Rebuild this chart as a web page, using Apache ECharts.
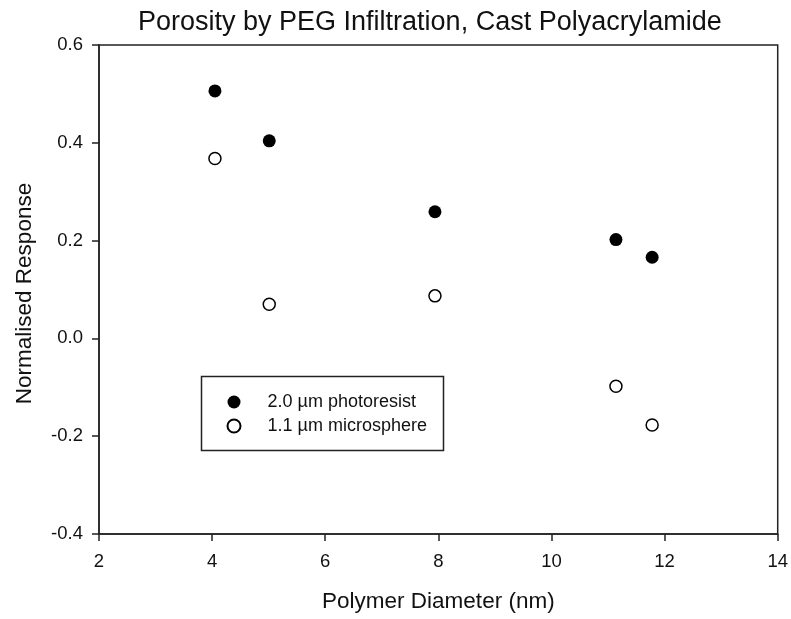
<!DOCTYPE html>
<html>
<head>
<meta charset="utf-8">
<script src="https://cdn.jsdelivr.net/npm/echarts@6/dist/echarts.min.js"></script>
<style>html,body{margin:0;padding:0;background:#fff;}#c{width:791px;height:619px;}</style>
</head>
<body>
<div id="c"></div>
<script>
var diameters = [4.05, 5.01, 7.94, 11.14, 11.78];
var photoresist = [0.506, 0.404, 0.259, 0.202, 0.166];
var microsphere = [0.368, 0.070, 0.087, -0.098, -0.177];
var seriesNames = ['2.0 µm photoresist', '1.1 µm microsphere'];
var titleText = 'Porosity by PEG Infiltration, Cast Polyacrylamide';
var xName = 'Polymer Diameter (nm)';
var yName = 'Normalised Response';

function pairs(xs, ys) { return xs.map(function (x, i) { return [x, ys[i]]; }); }

var font = 'Liberation Sans, Arial, sans-serif';
var chart = echarts.init(document.getElementById('c'), null, {renderer: 'canvas'});
chart.setOption({
  animation: false,
  backgroundColor: '#fff',
  title: {
    text: titleText, left: 133, top: 4, padding: 5,
    textStyle: {fontFamily: font, fontSize: 27, fontWeight: 'normal', color: '#111'}
  },
  grid: {left: 99, top: 45, right: 12, bottom: 85, show: true, borderColor: '#222', borderWidth: 1.5, backgroundColor: 'transparent'},
  xAxis: {
    type: 'value', min: 2, max: 14, interval: 2,
    name: xName, nameLocation: 'middle', nameGap: 56,
    nameTextStyle: {fontFamily: font, fontSize: 22.5, color: '#111'},
    axisLine: {show: true, onZero: false, lineStyle: {color: '#222', width: 1.5}},
    axisTick: {show: true, inside: false, length: 7, lineStyle: {color: '#222', width: 1.5}},
    axisLabel: {fontFamily: font, fontSize: 18.5, color: '#111', margin: 18},
    splitLine: {show: false}
  },
  yAxis: {
    type: 'value', min: -0.4, max: 0.6, interval: 0.2,
    name: yName, nameLocation: 'middle', nameGap: 63,
    nameTextStyle: {fontFamily: font, fontSize: 22.5, color: '#111', padding: [0, 8, 0, 0]},
    axisLine: {show: true, onZero: false, lineStyle: {color: '#222', width: 1.5}},
    axisTick: {show: true, inside: false, length: 7, lineStyle: {color: '#222', width: 1.5}},
    axisLabel: {fontFamily: font, fontSize: 18.5, color: '#111', margin: 16,
      formatter: function (v) { return v.toFixed(1); }},
    splitLine: {show: false}
  },
  legend: {
    orient: 'vertical', left: 226.5, top: 393, padding: 0,
    itemWidth: 13, itemHeight: 13, itemGap: 6, selectedMode: false,
    data: [{name: seriesNames[0], icon: 'circle'}, {name: seriesNames[1], icon: 'circle'}],
    textStyle: {fontFamily: font, fontSize: 18, color: '#111', lineHeight: 18, padding: [0, 0, 0, 22]}
  },
  graphic: [{
    type: 'rect', left: 199, top: 374, silent: true, z: 10,
    shape: {width: 242, height: 74},
    style: {fill: null, stroke: '#222', lineWidth: 1.5}
  }],
  series: [
    {name: seriesNames[0], type: 'scatter', symbol: 'circle', symbolSize: 13,
     itemStyle: {color: '#000', opacity: 1}, data: pairs(diameters, photoresist)},
    {name: seriesNames[1], type: 'scatter', symbol: 'circle', symbolSize: 12,
     itemStyle: {color: '#fff', borderColor: '#000', borderWidth: 1.5, opacity: 1}, data: pairs(diameters, microsphere)}
  ]
});
</script>
</body>
</html>
